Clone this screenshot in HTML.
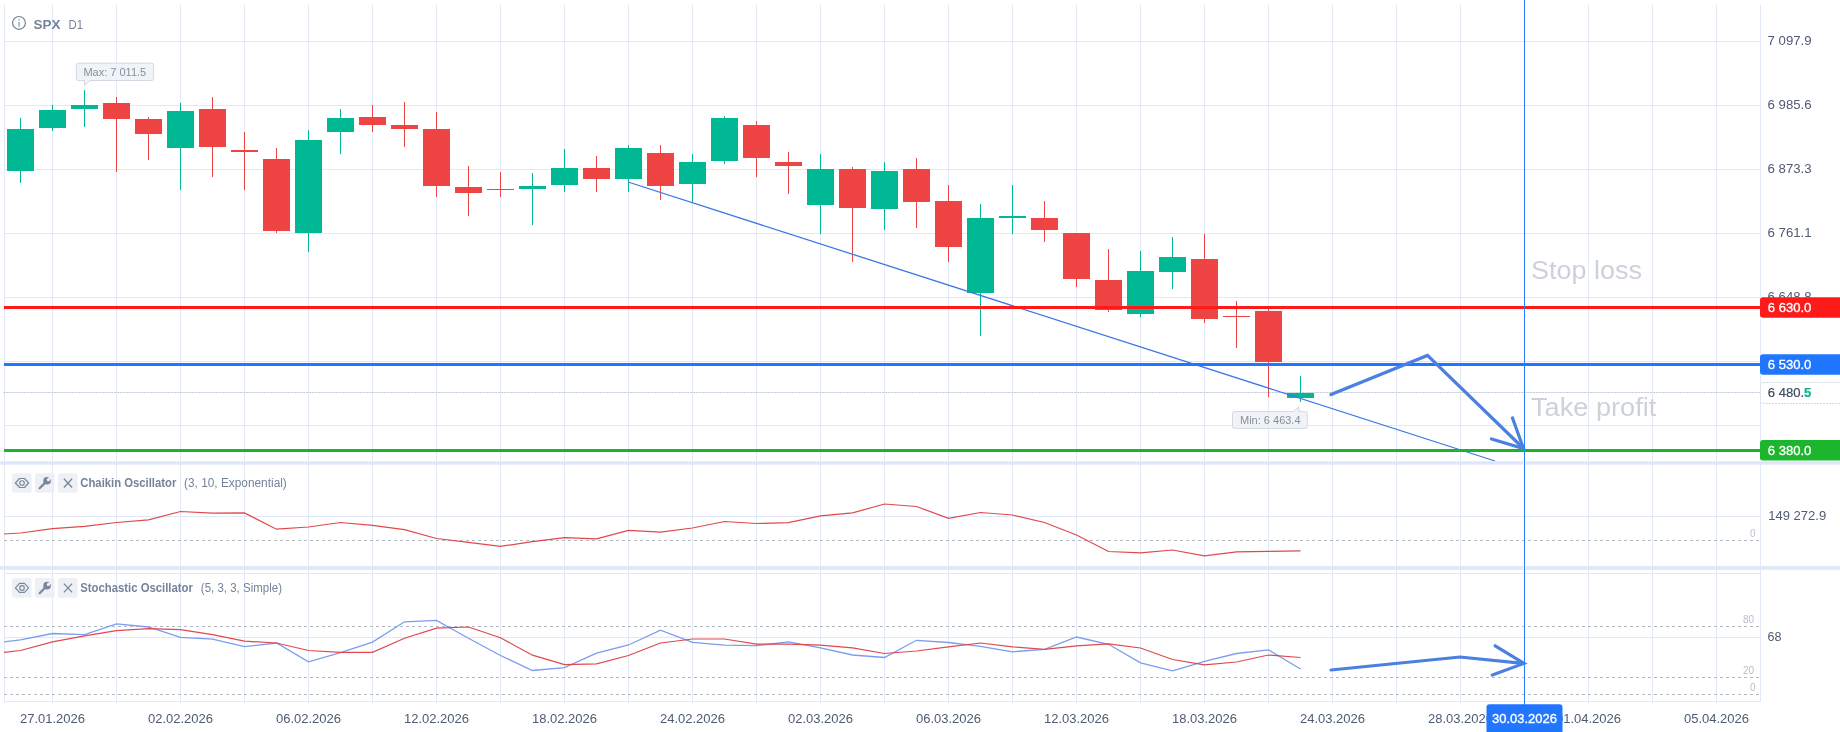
<!DOCTYPE html>
<html><head><meta charset="utf-8"><title>SPX D1</title>
<style>
html,body{margin:0;padding:0;background:#fff;}
body{width:1840px;height:732px;overflow:hidden;position:relative;font-family:'Liberation Sans', Arial, sans-serif;}
svg{display:block;position:absolute;left:0;top:0;will-change:transform;}
svg text{font-family:'Liberation Sans', Arial, sans-serif;}
</style></head><body>
<svg width="1840" height="732" viewBox="0 0 1840 732">
<rect width="1840" height="732" fill="#ffffff"/>

<path d="M52.5 5V703 M116.5 5V703 M180.5 5V703 M244.5 5V703 M308.5 5V703 M372.5 5V703 M436.5 5V703 M500.5 5V703 M564.5 5V703 M628.5 5V703 M692.5 5V703 M756.5 5V703 M820.5 5V703 M884.5 5V703 M948.5 5V703 M1012.5 5V703 M1076.5 5V703 M1140.5 5V703 M1204.5 5V703 M1268.5 5V703 M1332.5 5V703 M1396.5 5V703 M1460.5 5V703 M1524.5 5V703 M1588.5 5V703 M1652.5 5V703 M1716.5 5V703 M4 41.5H1760 M4 105.5H1760 M4 169.5H1760 M4 233.5H1760 M4 297.5H1760 M4 361.5H1760 M4 425.5H1760 M4 516.5H1760 M4 573.5H1760 M4 637.5H1760" stroke="#e1e9f8" stroke-width="1" fill="none"/>
<path d="M4.5 5V702 M1760.5 5V702 M4 701.5H1760" stroke="#e1e9f8" stroke-width="1" fill="none"/>
<path d="M4 540.5H1760 M4 626.5H1760 M4 677.5H1760 M4 694.5H1760" stroke="#b4b8bf" stroke-width="1" stroke-dasharray="3 3" fill="none"/>
<path d="M4 392.5H1760" stroke="#e6ebf6" stroke-width="1" fill="none"/>
<path d="M3 392.5H1760" stroke="#c9cfdb" stroke-width="1" stroke-dasharray="2 1" fill="none"/>
<rect x="20" y="118" width="1" height="65" fill="#00b994"/>
<rect x="7" y="129" width="27" height="42" fill="#00b994"/>
<rect x="52" y="105" width="1" height="26" fill="#00b994"/>
<rect x="39" y="110" width="27" height="18" fill="#00b994"/>
<rect x="84" y="90" width="1" height="37" fill="#00b994"/>
<rect x="71" y="105" width="27" height="4" fill="#00b994"/>
<rect x="116" y="97" width="1" height="75" fill="#ef4444"/>
<rect x="103" y="103" width="27" height="16" fill="#ef4444"/>
<rect x="148" y="117" width="1" height="43" fill="#ef4444"/>
<rect x="135" y="119" width="27" height="15" fill="#ef4444"/>
<rect x="180" y="103" width="1" height="87" fill="#00b994"/>
<rect x="167" y="111" width="27" height="37" fill="#00b994"/>
<rect x="212" y="97" width="1" height="80" fill="#ef4444"/>
<rect x="199" y="109" width="27" height="38" fill="#ef4444"/>
<rect x="244" y="132" width="1" height="58" fill="#ef4444"/>
<rect x="231" y="150" width="27" height="2" fill="#ef4444"/>
<rect x="276" y="148" width="1" height="85" fill="#ef4444"/>
<rect x="263" y="159" width="27" height="72" fill="#ef4444"/>
<rect x="308" y="130" width="1" height="122" fill="#00b994"/>
<rect x="295" y="140" width="27" height="93" fill="#00b994"/>
<rect x="340" y="109" width="1" height="45" fill="#00b994"/>
<rect x="327" y="118" width="27" height="14" fill="#00b994"/>
<rect x="372" y="105" width="1" height="27" fill="#ef4444"/>
<rect x="359" y="117" width="27" height="8" fill="#ef4444"/>
<rect x="404" y="102" width="1" height="45" fill="#ef4444"/>
<rect x="391" y="125" width="27" height="4" fill="#ef4444"/>
<rect x="436" y="112" width="1" height="85" fill="#ef4444"/>
<rect x="423" y="129" width="27" height="57" fill="#ef4444"/>
<rect x="468" y="166" width="1" height="50" fill="#ef4444"/>
<rect x="455" y="187" width="27" height="6" fill="#ef4444"/>
<rect x="500" y="172" width="1" height="25" fill="#ef4444"/>
<rect x="487" y="189" width="27" height="1" fill="#ef4444"/>
<rect x="532" y="173" width="1" height="52" fill="#00b994"/>
<rect x="519" y="186" width="27" height="3" fill="#00b994"/>
<rect x="564" y="149" width="1" height="43" fill="#00b994"/>
<rect x="551" y="168" width="27" height="17" fill="#00b994"/>
<rect x="596" y="156" width="1" height="36" fill="#ef4444"/>
<rect x="583" y="168" width="27" height="11" fill="#ef4444"/>
<rect x="628" y="145" width="1" height="47" fill="#00b994"/>
<rect x="615" y="148" width="27" height="31" fill="#00b994"/>
<rect x="660" y="145" width="1" height="55" fill="#ef4444"/>
<rect x="647" y="153" width="27" height="33" fill="#ef4444"/>
<rect x="692" y="154" width="1" height="48" fill="#00b994"/>
<rect x="679" y="162" width="27" height="22" fill="#00b994"/>
<rect x="724" y="116" width="1" height="48" fill="#00b994"/>
<rect x="711" y="118" width="27" height="43" fill="#00b994"/>
<rect x="756" y="121" width="1" height="56" fill="#ef4444"/>
<rect x="743" y="125" width="27" height="33" fill="#ef4444"/>
<rect x="788" y="152" width="1" height="42" fill="#ef4444"/>
<rect x="775" y="162" width="27" height="4" fill="#ef4444"/>
<rect x="820" y="154" width="1" height="80" fill="#00b994"/>
<rect x="807" y="169" width="27" height="36" fill="#00b994"/>
<rect x="852" y="167" width="1" height="95" fill="#ef4444"/>
<rect x="839" y="169" width="27" height="39" fill="#ef4444"/>
<rect x="884" y="162" width="1" height="68" fill="#00b994"/>
<rect x="871" y="171" width="27" height="38" fill="#00b994"/>
<rect x="916" y="158" width="1" height="70" fill="#ef4444"/>
<rect x="903" y="169" width="27" height="33" fill="#ef4444"/>
<rect x="948" y="185" width="1" height="77" fill="#ef4444"/>
<rect x="935" y="201" width="27" height="46" fill="#ef4444"/>
<rect x="980" y="204" width="1" height="132" fill="#00b994"/>
<rect x="967" y="218" width="27" height="75" fill="#00b994"/>
<rect x="1012" y="185" width="1" height="49" fill="#00b994"/>
<rect x="999" y="216" width="27" height="2" fill="#00b994"/>
<rect x="1044" y="201" width="1" height="41" fill="#ef4444"/>
<rect x="1031" y="218" width="27" height="12" fill="#ef4444"/>
<rect x="1076" y="233" width="1" height="54" fill="#ef4444"/>
<rect x="1063" y="233" width="27" height="46" fill="#ef4444"/>
<rect x="1108" y="249" width="1" height="63" fill="#ef4444"/>
<rect x="1095" y="280" width="27" height="30" fill="#ef4444"/>
<rect x="1140" y="251" width="1" height="66" fill="#00b994"/>
<rect x="1127" y="271" width="27" height="43" fill="#00b994"/>
<rect x="1172" y="237" width="1" height="52" fill="#00b994"/>
<rect x="1159" y="257" width="27" height="15" fill="#00b994"/>
<rect x="1204" y="234" width="1" height="89" fill="#ef4444"/>
<rect x="1191" y="259" width="27" height="60" fill="#ef4444"/>
<rect x="1236" y="301" width="1" height="47" fill="#ef4444"/>
<rect x="1223" y="316" width="27" height="1" fill="#ef4444"/>
<rect x="1268" y="308" width="1" height="89" fill="#ef4444"/>
<rect x="1255" y="311" width="27" height="51" fill="#ef4444"/>
<rect x="1300" y="376" width="1" height="26" fill="#00b994"/>
<rect x="1287" y="393" width="27" height="5" fill="#00b994"/>
<line x1="628" y1="182" x2="1495" y2="461" stroke="#3d78e6" stroke-width="1.3"/>
<rect x="4" y="306" width="1756" height="3" fill="#ff1a1a"/>
<rect x="4" y="363" width="1756" height="3" fill="#2176ff"/>
<rect x="4" y="449" width="1756" height="3" fill="#17b52a"/>
<polyline points="1331,394.6 1427.5,355.4 1523,448" stroke="#4a80e2" stroke-width="3.2" fill="none" stroke-linejoin="miter" stroke-linecap="round"/>
<path d="M1512.5,418 L1523.5,448.5 L1491.5,439" stroke="#4a80e2" stroke-width="3.2" fill="none" stroke-linecap="round" stroke-linejoin="miter"/>
<polyline points="1331,670 1460,657 1523,663.4" stroke="#4a80e2" stroke-width="3.2" fill="none" stroke-linecap="round"/>
<path d="M1495.2,645.8 L1524,663.4 L1492.3,675.1" stroke="#4a80e2" stroke-width="3.2" fill="none" stroke-linecap="round"/>
<polyline points="4.0,534 20.5,533 52.5,528.7 84.5,526.3 116.5,522.5 148.5,519.9 180.5,511.5 212.5,513.2 244.5,512.9 276.5,529.2 308.5,527 340.5,522.5 372.5,525.4 404.5,529.7 436.5,538.5 468.5,542.3 500.5,546.4 532.5,541.6 564.5,537.6 596.5,538.8 628.5,530.4 660.5,532.1 692.5,528 724.5,521.5 756.5,523.5 788.5,522.7 820.5,515.8 852.5,512.9 884.5,504 916.5,506.5 948.5,518.3 980.5,512.5 1012.5,515 1044.5,522.5 1076.5,535 1108.5,551.5 1140.5,552.8 1172.5,550 1204.5,555.8 1236.5,551.8 1268.5,551.3 1300.5,550.8" stroke="#e0484d" stroke-width="1.2" fill="none"/>
<polyline points="4.0,641.8 20.5,639.9 52.5,633.5 84.5,634.7 116.5,623.9 148.5,627 180.5,637.3 212.5,639.2 244.5,646.6 276.5,643 308.5,661.9 340.5,652.6 372.5,642.1 404.5,621.8 436.5,620.4 468.5,638.3 500.5,655.5 532.5,670.5 564.5,667.7 596.5,653.1 628.5,645 660.5,630.1 692.5,642.3 724.5,645.2 756.5,645.7 788.5,641.8 820.5,647.8 852.5,655 884.5,657.5 916.5,640.3 948.5,642.5 980.5,646.3 1012.5,651.8 1044.5,649.3 1076.5,637 1108.5,644.3 1140.5,662.8 1172.5,670.8 1204.5,661.3 1236.5,653.5 1268.5,649.8 1300.5,669" stroke="#7b9cf0" stroke-width="1.3" fill="none"/>
<polyline points="4.0,652.4 20.5,650.5 52.5,641.8 84.5,635.9 116.5,630.6 148.5,628.7 180.5,629.7 212.5,634.7 244.5,641.1 276.5,643 308.5,650.5 340.5,652.4 372.5,652.4 404.5,638.3 436.5,628.1 468.5,627 500.5,637.8 532.5,655.2 564.5,664.6 596.5,663.8 628.5,655.5 660.5,643 692.5,639 724.5,639 756.5,644.2 788.5,644.2 820.5,645.2 852.5,647.8 884.5,653.5 916.5,651 948.5,646.8 980.5,643 1012.5,646.8 1044.5,649.3 1076.5,645.8 1108.5,643.8 1140.5,648 1172.5,659.5 1204.5,664.8 1236.5,662 1268.5,655 1300.5,657.5" stroke="#e0484d" stroke-width="1.2" fill="none"/>
<rect x="0" y="461.2" width="1840" height="3.5" fill="#dfe8f9"/>
<rect x="0" y="566.1" width="1840" height="3.7" fill="#dfe8f9"/>
<g fill="#ffffff" fill-opacity="0.7"><rect x="1523" y="461" width="3" height="4"/><rect x="1523" y="566" width="3" height="4"/><rect x="1523" y="573" width="3" height="1"/></g>
<rect x="1524" y="0" width="1" height="732" fill="#2a7fff"/>
<circle cx="19" cy="22.9" r="6.4" stroke="#74819a" stroke-width="1.2" fill="none"/>
<rect x="18.4" y="19.2" width="1.3" height="1.4" fill="#8a95a8"/><rect x="18.4" y="22" width="1.3" height="4.7" fill="#8a95a8"/>
<text x="33.6" y="29" font-size="13.5" font-weight="bold" fill="#76839a" textLength="26.9" lengthAdjust="spacingAndGlyphs">SPX</text>
<text x="68.6" y="29" font-size="13.5" fill="#76839a" textLength="14.5" lengthAdjust="spacingAndGlyphs">D1</text>
<path d="M78.3,63.2 H151.6 Q153.6,63.2 153.6,65.2 V78.5 Q153.6,80.5 151.6,80.5 H90 L84.5,85.5 L84.5,80.5 H78.3 Q76.3,80.5 76.3,78.5 V65.2 Q76.3,63.2 78.3,63.2 Z" fill="#edf0f5" fill-opacity="0.82" stroke="#d3d8e2" stroke-width="1"/>
<text x="83.4" y="76" font-size="11" fill="#878f9c">Max: 7 011.5</text>
<path d="M1234.5,411.6 H1293.5 L1298.8,406.7 L1298.8,411.6 H1305.4 Q1307.4,411.6 1307.4,413.6 V426.4 Q1307.4,428.4 1305.4,428.4 H1234.5 Q1232.5,428.4 1232.5,426.4 V413.6 Q1232.5,411.6 1234.5,411.6 Z" fill="#edf0f5" fill-opacity="0.82" stroke="#d3d8e2" stroke-width="1"/>
<text x="1240" y="424" font-size="11" fill="#878f9c">Min: 6 463.4</text>
<text x="1531" y="279" font-size="26.5" fill="#ccd1da" textLength="110.9" lengthAdjust="spacingAndGlyphs">Stop loss</text>
<text x="1531" y="416" font-size="26.5" fill="#ccd1da" textLength="125.3" lengthAdjust="spacingAndGlyphs">Take profit</text>
<text x="1767.6" y="45.1" font-size="12.6" fill="#4f5b72" textLength="44" lengthAdjust="spacingAndGlyphs">7 097.9</text>
<text x="1767.6" y="109.1" font-size="12.6" fill="#4f5b72" textLength="44" lengthAdjust="spacingAndGlyphs">6 985.6</text>
<text x="1767.6" y="173.1" font-size="12.6" fill="#4f5b72" textLength="44" lengthAdjust="spacingAndGlyphs">6 873.3</text>
<text x="1767.6" y="237.1" font-size="12.6" fill="#4f5b72" textLength="44" lengthAdjust="spacingAndGlyphs">6 761.1</text>
<text x="1767.6" y="301.1" font-size="12.6" fill="#4f5b72" textLength="44" lengthAdjust="spacingAndGlyphs">6 648.8</text>
<text x="1768.2" y="520.1" font-size="12.6" fill="#4f5b72" textLength="58" lengthAdjust="spacingAndGlyphs">149 272.9</text>
<text x="1767.6" y="641.1" font-size="12.6" fill="#4f5b72">68</text>
<path d="M1763,297.3 H1840 V317.8 H1763 Q1760,317.8 1760,314.8 V300.3 Q1760,297.3 1763,297.3 Z" fill="#ff1a1a"/>
<text x="1767.8" y="311.85" font-size="12.6" fill="#ffffff" stroke="#ffffff" stroke-width="0.3" textLength="43.6" lengthAdjust="spacingAndGlyphs">6 630.0</text>
<path d="M1763,354.2 H1840 V374.8 H1763 Q1760,374.8 1760,371.8 V357.2 Q1760,354.2 1763,354.2 Z" fill="#2176ff"/>
<text x="1767.8" y="368.8" font-size="12.6" fill="#ffffff" stroke="#ffffff" stroke-width="0.3" textLength="43.6" lengthAdjust="spacingAndGlyphs">6 530.0</text>
<path d="M1763,440 H1840 V460.5 H1763 Q1760,460.5 1760,457.5 V443 Q1760,440 1763,440 Z" fill="#1db52d"/>
<text x="1767.8" y="454.55" font-size="12.6" fill="#ffffff" stroke="#ffffff" stroke-width="0.3" textLength="43.6" lengthAdjust="spacingAndGlyphs">6 380.0</text>
<path d="M1763.5,382.5 H1840 M1840,403.5 H1763.5 Q1760.5,403.5 1760.5,400.5 V385.5 Q1760.5,382.5 1763.5,382.5" fill="#fff" stroke="#d5dae3" stroke-width="1" stroke-dasharray="2 1"/>
<text x="1767.8" y="397" font-size="12.6" fill="#3e4a5e" stroke="#3e4a5e" stroke-width="0.2" textLength="43.6" lengthAdjust="spacingAndGlyphs">6 480.<tspan fill="#10b48c" stroke="#10b48c" font-weight="bold">5</tspan></text>
<text x="1750" y="537" font-size="10" fill="#b9c0cc">0</text>
<text x="1743" y="623" font-size="10" fill="#b9c0cc">80</text>
<text x="1743" y="674" font-size="10" fill="#b9c0cc">20</text>
<text x="1750" y="691" font-size="10" fill="#b9c0cc">0</text>
<rect x="12" y="473.2" width="19.6" height="19.6" rx="2.5" fill="#e8ecf3" fill-opacity="0.8"/>
<rect x="35" y="473.2" width="19.6" height="19.6" rx="2.5" fill="#e8ecf3" fill-opacity="0.8"/>
<rect x="58" y="473.2" width="19.6" height="19.6" rx="2.5" fill="#e8ecf3" fill-opacity="0.8"/>
<path d="M15.4,483.0 L19.5,478.5 H24.5 L28.6,483.0 L24.5,487.5 H19.5 Z" stroke="#7a869a" stroke-width="1.15" fill="none" stroke-linejoin="round"/>
<circle cx="22" cy="483.0" r="2.3" stroke="#7a869a" stroke-width="1.1" fill="none"/>
<path d="M39.6,488.3 L45.3,482.59999999999997" stroke="#7a869a" stroke-width="2.2" stroke-linecap="round"/>
<circle cx="47.05" cy="480.75" r="3.8" fill="#7a869a"/>
<circle cx="48.3" cy="479.7" r="1.5" fill="#eef1f6"/>
<path d="M48.3,479.7 L52,476.0" stroke="#eef1f6" stroke-width="2.4"/>
<path d="M63.9,478.7 L72.1,487.5 M72.1,478.7 L63.9,487.5" stroke="#7a869a" stroke-width="1.3"/>
<text x="80.3" y="487.3" font-size="12" font-weight="bold" fill="#76839a" textLength="96" lengthAdjust="spacingAndGlyphs">Chaikin Oscillator</text>
<text x="184" y="487.3" font-size="12" fill="#76839a" textLength="102.8" lengthAdjust="spacingAndGlyphs">(3, 10, Exponential)</text>
<rect x="12" y="578.1" width="19.6" height="19.6" rx="2.5" fill="#e8ecf3" fill-opacity="0.8"/>
<rect x="35" y="578.1" width="19.6" height="19.6" rx="2.5" fill="#e8ecf3" fill-opacity="0.8"/>
<rect x="58" y="578.1" width="19.6" height="19.6" rx="2.5" fill="#e8ecf3" fill-opacity="0.8"/>
<path d="M15.4,587.9 L19.5,583.4 H24.5 L28.6,587.9 L24.5,592.4 H19.5 Z" stroke="#7a869a" stroke-width="1.15" fill="none" stroke-linejoin="round"/>
<circle cx="22" cy="587.9" r="2.3" stroke="#7a869a" stroke-width="1.1" fill="none"/>
<path d="M39.6,593.2 L45.3,587.5" stroke="#7a869a" stroke-width="2.2" stroke-linecap="round"/>
<circle cx="47.05" cy="585.65" r="3.8" fill="#7a869a"/>
<circle cx="48.3" cy="584.6" r="1.5" fill="#eef1f6"/>
<path d="M48.3,584.6 L52,580.9" stroke="#eef1f6" stroke-width="2.4"/>
<path d="M63.9,583.6 L72.1,592.4 M72.1,583.6 L63.9,592.4" stroke="#7a869a" stroke-width="1.3"/>
<text x="80.3" y="592" font-size="12" font-weight="bold" fill="#76839a" textLength="112.6" lengthAdjust="spacingAndGlyphs">Stochastic Oscillator</text>
<text x="200.8" y="592" font-size="12" fill="#76839a" textLength="81.2" lengthAdjust="spacingAndGlyphs">(5, 3, 3, Simple)</text>
<text x="52.5" y="723.3" font-size="13" fill="#4f5b72" text-anchor="middle">27.01.2026</text>
<text x="180.5" y="723.3" font-size="13" fill="#4f5b72" text-anchor="middle">02.02.2026</text>
<text x="308.5" y="723.3" font-size="13" fill="#4f5b72" text-anchor="middle">06.02.2026</text>
<text x="436.5" y="723.3" font-size="13" fill="#4f5b72" text-anchor="middle">12.02.2026</text>
<text x="564.5" y="723.3" font-size="13" fill="#4f5b72" text-anchor="middle">18.02.2026</text>
<text x="692.5" y="723.3" font-size="13" fill="#4f5b72" text-anchor="middle">24.02.2026</text>
<text x="820.5" y="723.3" font-size="13" fill="#4f5b72" text-anchor="middle">02.03.2026</text>
<text x="948.5" y="723.3" font-size="13" fill="#4f5b72" text-anchor="middle">06.03.2026</text>
<text x="1076.5" y="723.3" font-size="13" fill="#4f5b72" text-anchor="middle">12.03.2026</text>
<text x="1204.5" y="723.3" font-size="13" fill="#4f5b72" text-anchor="middle">18.03.2026</text>
<text x="1332.5" y="723.3" font-size="13" fill="#4f5b72" text-anchor="middle">24.03.2026</text>
<text x="1460.5" y="723.3" font-size="13" fill="#4f5b72" text-anchor="middle">28.03.2026</text>
<text x="1588.5" y="723.3" font-size="13" fill="#4f5b72" text-anchor="middle">01.04.2026</text>
<text x="1716.5" y="723.3" font-size="13" fill="#4f5b72" text-anchor="middle">05.04.2026</text>
<path d="M1486.5,732 V707.3 Q1486.5,704.3 1489.5,704.3 H1559.5 Q1562.5,704.3 1562.5,707.3 V732 Z" fill="#2176ff"/>
<text x="1524.5" y="723.3" font-size="13" fill="#ffffff" stroke="#ffffff" stroke-width="0.35" text-anchor="middle">30.03.2026</text>
</svg>
</body></html>
